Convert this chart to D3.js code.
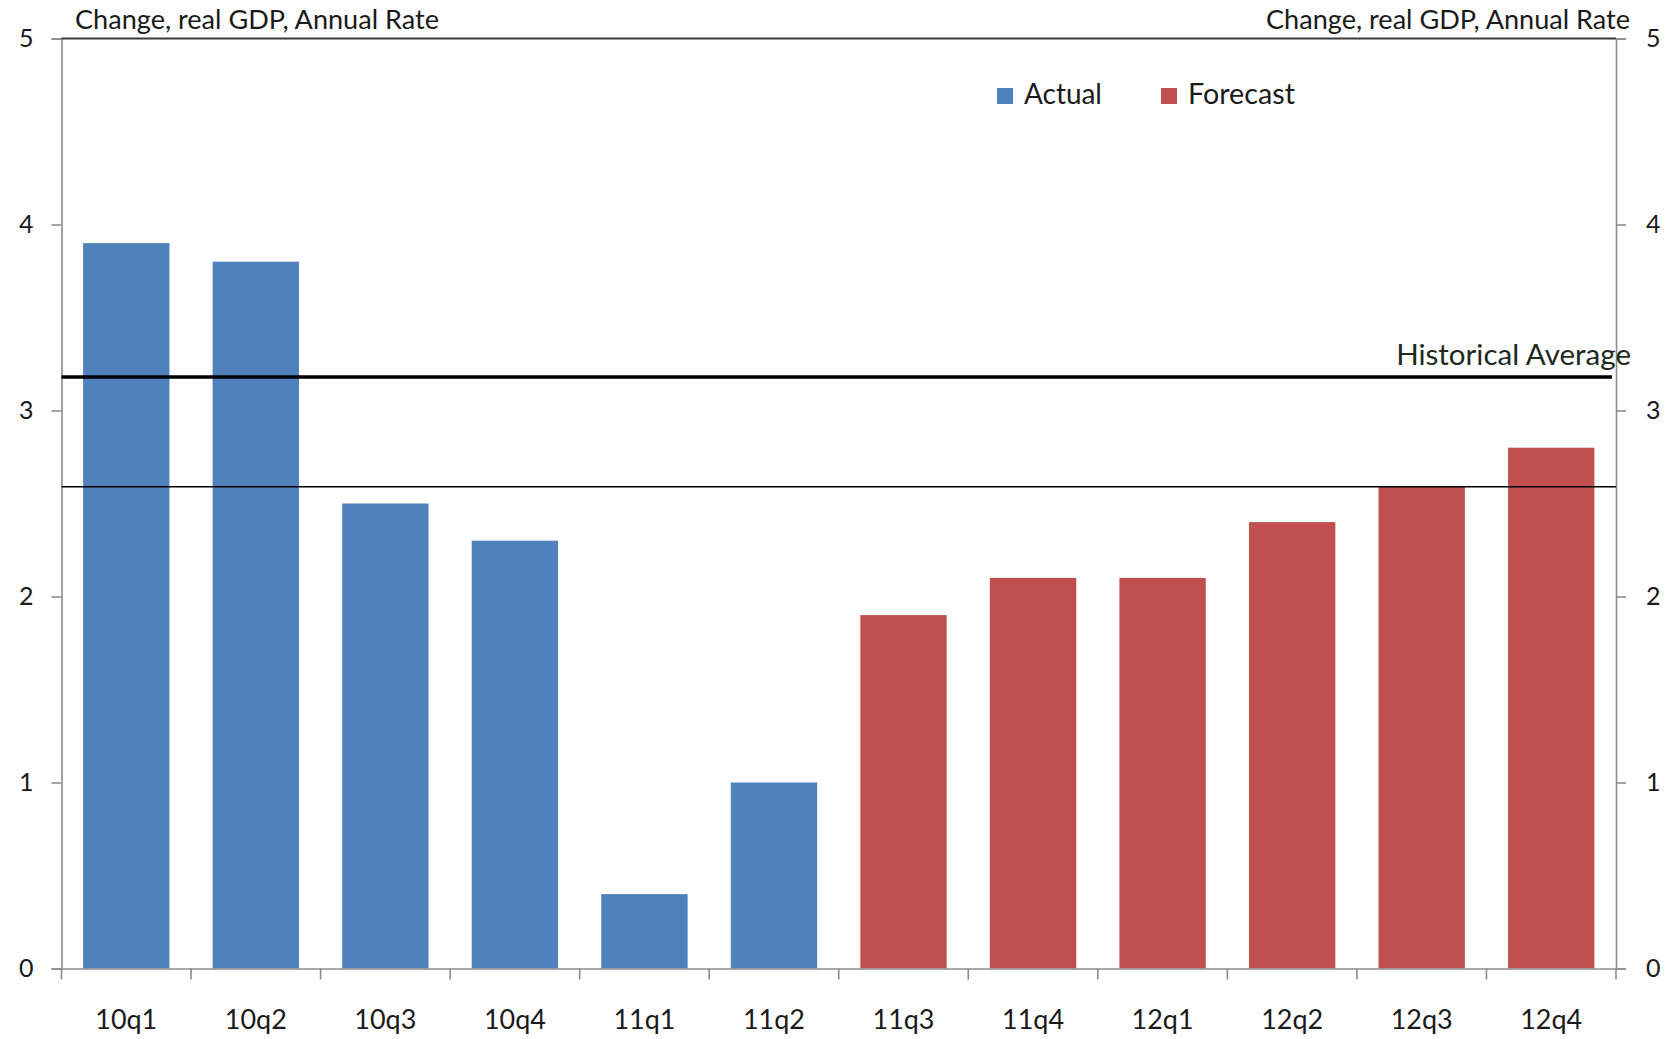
<!DOCTYPE html>
<html>
<head>
<meta charset="utf-8">
<script src="https://cdn.jsdelivr.net/npm/d3@7"></script>
<style>
  html, body { margin: 0; padding: 0; background: #fff; }
  svg { display: block; font-family: Lato, "Open Sans", sans-serif; }
</style>
</head>
<body>
<svg id="chart" width="1671" height="1039"></svg>
<script>
// ---- data ----
const categories = ["10q1","10q2","10q3","10q4","11q1","11q2","11q3","11q4","12q1","12q2","12q3","12q4"];
const growthValues = [3.9, 3.8, 2.5, 2.3, 0.4, 1.0, 1.9, 2.1, 2.1, 2.4, 2.59, 2.8];
const seriesOf = ["Actual","Actual","Actual","Actual","Actual","Actual",
                  "Forecast","Forecast","Forecast","Forecast","Forecast","Forecast"];
const seriesNames = ["Actual", "Forecast"];
const yTicks = [0, 1, 2, 3, 4, 5];
const historicalAverage = 3.18;
const secondLine = 2.59;
const axisTitle = "Change, real GDP, Annual Rate";
const avgLabel = "Historical Average";

function draw() {
  const svg = d3.select("#chart");
  const left = 61.5, right = 1616, top = 38.5, bottom = 968.5;

  const color = d3.scaleOrdinal().domain(seriesNames).range(["#4F81BD", "#C0504D"]);
  const x = d3.scaleBand().domain(categories).range([left, right])
              .paddingInner(1/3).paddingOuter(1/6);
  const y = d3.scaleLinear().domain([0, 5]).range([bottom, top]);

  function fit(sel, target) {
    const w = sel.node().getComputedTextLength();
    const fs = parseFloat(sel.attr("font-size"));
    if (w > 0) sel.attr("font-size", fs * target / w);
    return parseFloat(sel.attr("font-size"));
  }

  // bars
  svg.append("g").selectAll("rect").data(categories).join("rect")
    .attr("x", d => x(d))
    .attr("width", x.bandwidth())
    .attr("y", (d, i) => y(growthValues[i]))
    .attr("height", (d, i) => y(0) - y(growthValues[i]))
    .attr("fill", (d, i) => color(seriesOf[i]));

  const axisColor = "#8c8c8c";

  // left axis
  const la = svg.append("g").attr("transform", `translate(${left},0)`)
    .call(d3.axisLeft(y).tickValues(yTicks).tickSize(10).tickPadding(18).tickFormat(d3.format("d")));
  // right axis
  const ra = svg.append("g").attr("transform", `translate(${right},0)`)
    .call(d3.axisRight(y).tickValues(yTicks).tickSize(10).tickPadding(20).tickFormat(d3.format("d")));
  [la, ra].forEach(g => {
    g.select(".domain").attr("stroke", axisColor).attr("stroke-width", 1.6);
    g.selectAll(".tick line").attr("stroke", axisColor).attr("stroke-width", 1.6);
    g.selectAll(".tick text").attr("fill", "#1a1a1a").attr("font-size", 25)
      .attr("font-family", "Lato, sans-serif");
  });

  // bottom axis (labels)
  const ba = svg.append("g").attr("transform", `translate(0,${bottom})`)
    .call(d3.axisBottom(x).tickSize(0).tickPadding(58));
  ba.select(".domain").attr("stroke", axisColor).attr("stroke-width", 1.6);
  ba.selectAll(".tick text").attr("fill", "#1a1a1a").attr("font-size", 25)
    .attr("font-family", "Lato, sans-serif").attr("dy", "0.1em");
  const xfs = fit(ba.select(".tick text"), 62);
  ba.selectAll(".tick text").attr("font-size", xfs);
  // bottom tick marks at band boundaries
  const bounds = categories.map(c => x(c) - x.step() * x.paddingOuter());
  bounds.push(right);
  ba.selectAll(".btick").data(bounds).join("line").attr("class", "btick")
    .attr("x1", d => d).attr("x2", d => d).attr("y1", 0).attr("y2", 11)
    .attr("stroke", axisColor).attr("stroke-width", 1.6);

  // top border
  svg.append("line").attr("x1", left).attr("x2", right)
    .attr("y1", y(5)).attr("y2", y(5))
    .attr("stroke", "#3a3a3a").attr("stroke-width", 2);

  // reference lines
  svg.append("line").attr("x1", left).attr("x2", right - 4)
    .attr("y1", y(historicalAverage)).attr("y2", y(historicalAverage))
    .attr("stroke", "#000").attr("stroke-width", 3.3);
  svg.append("line").attr("x1", left).attr("x2", right)
    .attr("y1", y(secondLine)).attr("y2", y(secondLine))
    .attr("stroke", "#000").attr("stroke-width", 1.4);

  // historical average label
  const ha = svg.append("text").attr("x", 1631).attr("y", 365)
    .attr("text-anchor", "end").attr("font-size", 26).attr("fill", "#1e2a1e")
    .text(avgLabel);
  fit(ha, 235);

  // axis titles
  const t1 = svg.append("text").attr("x", 75).attr("y", 29).attr("font-size", 24)
    .attr("fill", "#1a1a1a").text(axisTitle);
  const tfs = fit(t1, 364);
  svg.append("text").attr("x", 1630).attr("y", 29).attr("text-anchor", "end")
    .attr("font-size", tfs).attr("fill", "#1a1a1a").text(axisTitle);

  // legend
  const legendX = [997, 1161];
  const legendW = [78, 107];
  const lg = svg.append("g").selectAll("g").data(seriesNames).join("g")
    .attr("transform", (d, i) => `translate(${legendX[i]},88)`);
  lg.append("rect").attr("width", 16).attr("height", 16).attr("fill", d => color(d));
  lg.append("text").attr("x", 27).attr("y", 15.5).attr("font-size", 27)
    .attr("fill", "#1a1a1a").text(d => d)
    .each(function(d, i) { fit(d3.select(this), legendW[i]); });
}

if (document.fonts && document.fonts.load) {
  document.fonts.load("24px Lato").then(draw, draw);
} else {
  draw();
}
</script>
</body>
</html>
